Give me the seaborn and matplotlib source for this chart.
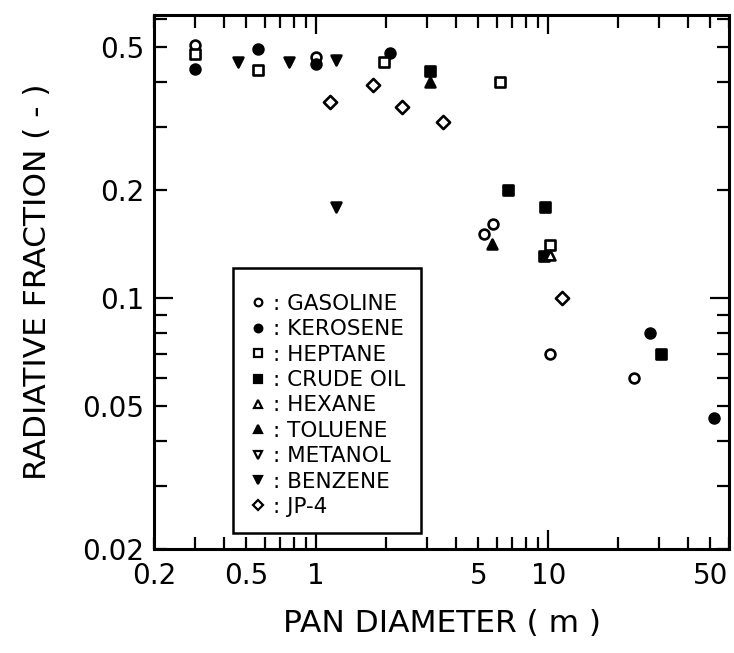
import numpy as np
import seaborn as sns
import matplotlib
matplotlib.use('Agg')
import matplotlib.pyplot as plt
from matplotlib.ticker import LogLocator, FuncFormatter
from matplotlib.lines import Line2D

sns.set_style('ticks')
plt.rcParams['font.family'] = ['DejaVu Sans']
plt.rcParams['text.color'] = 'black'
plt.rcParams['axes.labelcolor'] = 'black'

#----------------------------- data -----------------------------#
gasoline_x = [0.3, 1.0, 5.27, 5.77, 10.2, 23.4]
gasoline_y = [0.509, 0.47, 0.151, 0.161, 0.07, 0.06]

kerosene_x = [0.3, 0.56, 1.0, 2.08, 27.5, 51.6]
kerosene_y = [0.436, 0.496, 0.45, 0.483, 0.08, 0.0465]

heptane_x = [0.3, 0.56, 1.96, 6.2, 10.2]
heptane_y = [0.48, 0.433, 0.454, 0.40, 0.141]

crude_x = [3.1, 6.7, 9.7, 9.6, 30.7]
crude_y = [0.43, 0.20, 0.18, 0.131, 0.07]

hexane_x = [10.2]
hexane_y = [0.132]

toluene_x = [3.1, 5.7]
toluene_y = [0.40, 0.142]

metanol_x = []
metanol_y = []

benzene_x = [0.46, 0.76, 1.22, 1.22]
benzene_y = [0.456, 0.456, 0.462, 0.18]

jp4_x = [1.15, 1.75, 2.34, 3.5, 11.5]
jp4_y = [0.352, 0.393, 0.342, 0.31, 0.10]

fuel_names = ['GASOLINE', 'KEROSENE', 'HEPTANE', 'CRUDE OIL', 'HEXANE',
              'TOLUENE', 'METANOL', 'BENZENE', 'JP-4']
fuel_x = [gasoline_x, kerosene_x, heptane_x, crude_x, hexane_x,
          toluene_x, metanol_x, benzene_x, jp4_x]
fuel_y = [gasoline_y, kerosene_y, heptane_y, crude_y, hexane_y,
          toluene_y, metanol_y, benzene_y, jp4_y]
# marker, filled?
fuel_marker = [('o', False), ('o', True), ('s', False), ('s', True), ('^', False),
               ('^', True), ('v', False), ('v', True), ('D', False)]

x_labels = [0.2, 0.5, 1, 5, 10, 50]
y_labels = [0.02, 0.05, 0.1, 0.2, 0.5]
#------------------------------------------------------------------------------------#

fig = plt.figure(figsize=(7.34, 6.53), dpi=100)
ax = fig.add_axes([0.21, 0.159, 0.783, 0.818])

for name, xs, ys, (m, filled) in zip(fuel_names, fuel_x, fuel_y, fuel_marker):
    if len(xs) == 0:
        continue
    size = 45 if m == 'D' else 50
    if m == 's':
        size = 42
    sns.scatterplot(x=xs, y=ys, ax=ax, marker=m, s=size, color='black',
                    facecolor='black' if filled else 'white',
                    edgecolor='black', linewidth=1.9, zorder=3)

ax.set_xscale('log')
ax.set_yscale('log')
ax.set_xlim(0.2, 60)
ax.set_ylim(0.02, 0.615)

# decades long, 2..9 short; labels only at picked values
for axis, labs in ((ax.xaxis, x_labels), (ax.yaxis, y_labels)):
    axis.set_major_locator(LogLocator(base=10, numticks=10))
    axis.set_minor_locator(LogLocator(base=10, subs=np.arange(2, 10), numticks=20))
    fmt = FuncFormatter(lambda v, p, labs=labs: ('%g' % v) if any(np.isclose(v, l) for l in labs) else '')
    axis.set_major_formatter(fmt)
    axis.set_minor_formatter(fmt)

ax.tick_params(which='both', direction='in', top=True, right=True, width=1.6,
               labelsize=20, colors='black')
ax.tick_params(which='major', length=14)
ax.tick_params(which='minor', length=9)
ax.tick_params(axis='x', which='both', pad=9)
ax.tick_params(axis='y', which='both', pad=7)
for s in ax.spines.values():
    s.set_linewidth(2.2)
    s.set_color('black')

ax.set_xlabel('PAN DIAMETER ( m )', fontsize=22.5, labelpad=14)
ax.set_ylabel('RADIATIVE FRACTION ( - )', fontsize=22.5, labelpad=22)

handles = []
for name, (m, filled) in zip(fuel_names, fuel_marker):
    handles.append(Line2D([], [], linestyle='none', marker=m,
                          markersize=5.5 if m != 'D' else 5,
                          markerfacecolor='black' if filled else 'white',
                          markeredgecolor='black', markeredgewidth=1.6))
leg = ax.legend(handles, [': ' + n for n in fuel_names], loc='lower left',
                bbox_to_anchor=(0.137, 0.03), borderaxespad=0, fontsize=15.5,
                frameon=True, fancybox=False, edgecolor='black', framealpha=1,
                handlelength=0.8, handletextpad=0.3, labelspacing=0.25,
                borderpad=0.75, title=' ', title_fontsize=3)
leg.get_frame().set_linewidth(1.8)
for t in leg.get_texts():
    t.set_color('black')

plt.savefig('out.png', dpi=100)
